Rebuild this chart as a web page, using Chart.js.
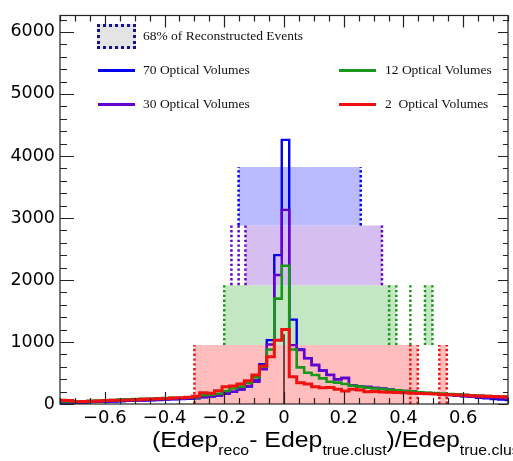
<!DOCTYPE html>
<html>
<head>
<meta charset="utf-8">
<script src="https://cdn.jsdelivr.net/npm/chart.js@4/dist/chart.umd.min.js"></script>
<style>
  html, body { margin: 0; padding: 0; background: #fff; overflow: hidden; }
  #wrap { position: relative; width: 513px; height: 461px; overflow: hidden; }
  #chart { position: absolute; left: 0; top: 0; }
  .leg { position: absolute; font-family: "Liberation Serif", serif; font-size: 13.5px; color: #111; white-space: pre; line-height: 14px; }
  .legline { position: absolute; height: 2.5px; width: 37px; }
  #legbox { position: absolute; left: 97px; top: 24px; width: 33px; height: 19px; background: #e4e4e4; border: 3px dotted #14148c; }
  #xtitle { position: absolute; left: 152px; top: 429px; font-family: "Liberation Sans", Arial, sans-serif; font-size: 22px; line-height: 22px; color: #000; white-space: pre; transform: scaleX(1.13); transform-origin: left top; }
  #xtitle sub { font-size: 14px; vertical-align: -8px; line-height: 0; }
</style>
</head>
<body>
<div id="wrap">
  <canvas id="chart" width="513" height="461"></canvas>
  <div id="legbox"></div>
  <div class="leg" style="left:143px; top:29px;">68% of Reconstructed Events</div>
  <div class="legline" style="left:98px; top:69px; background:#0000ee;"></div>
  <div class="leg" style="left:143px; top:63px;">70 Optical Volumes</div>
  <div class="legline" style="left:339px; top:69px; background:#1a961a;"></div>
  <div class="leg" style="left:385px; top:63px;">12 Optical Volumes</div>
  <div class="legline" style="left:98px; top:103px; background:#6600cc;"></div>
  <div class="leg" style="left:143px; top:97px;">30 Optical Volumes</div>
  <div class="legline" style="left:339px; top:103px; background:#f01010;"></div>
  <div class="leg" style="left:385px; top:97px;">2  Optical Volumes</div>
  <div id="xtitle">(Edep<sub>reco</sub>- Edep<sub>true.clust</sub>)/Edep<sub>true.clust</sub></div>
</div>
<script>
// ====== Data ======
// histogram binning: 61 bins of 0.025, first left edge at -0.7575
const binLow = -0.7575, binWidth = 0.025;

const h70 = [25, 25, 20, 25, 30, 35, 35, 40, 45, 50, 55, 55, 60, 65, 70, 75, 80, 85,
  90, 110, 120, 135, 165, 195, 235, 280, 380, 640, 1030, 2400,
  4260,
  1360, 880, 740, 630, 540, 470, 400, 420, 300, 285, 275, 260,
  245, 230, 220, 205, 195, 185, 175, 165, 155, 145, 135, 125, 115, 100, 90, 80, 70, 65];
const h30 = [30, 30, 25, 30, 35, 35, 40, 45, 50, 55, 55, 60, 65, 70, 75, 80, 85, 90,
  95, 115, 125, 140, 170, 200, 240, 290, 360, 560, 960, 2080,
  3130,
  950, 870, 736, 628, 537, 467, 397, 420, 300, 285, 275, 260,
  250, 235, 220, 210, 200, 190, 180, 170, 160, 150, 140, 130, 120, 110, 100, 95, 90, 85];
const h12 = [45, 40, 40, 45, 50, 55, 60, 65, 70, 75, 80, 85, 85, 90, 95, 100, 100, 105,
  110, 140, 150, 165, 210, 250, 280, 340, 430, 600, 880, 1700,
  2230,
  880, 590, 505, 467, 413, 360, 344, 322, 295, 280, 262, 250,
  240, 230, 220, 210, 200, 190, 180, 175, 170, 160, 155, 150, 140, 135, 130, 125, 120, 110];
const h2 = [60, 55, 35, 40, 45, 50, 55, 60, 62, 65, 70, 75, 80, 85, 90, 95, 100, 110,
  125, 180, 172, 214, 279, 290, 322, 376, 467, 612, 762, 1030,
  1200,
  440, 344, 322, 280, 263, 268, 236, 209, 236, 225, 198, 200,
  195, 190, 185, 180, 175, 170, 165, 160, 155, 150, 145, 140, 135, 130, 125, 120, 115, 110];

// 68% bands: [xLow, xHigh, yLow, yHigh]
const band70 = [[-0.152, 0.257, 2880, 3820]];
const band30 = [[-0.129, 0.328, 1915, 2880]];
const band12 = [[-0.2, 0.376, 950, 1915], [0.472, 0.497, 950, 1915]];
const band2 = [[-0.3, 0.448, 0, 950], [0.52, 0.545, 0, 950]];

// dotted edge lines
const edges70 = [-0.152, 0.257];
const edges30 = [-0.176, -0.152, -0.129, 0.328];
const edges12 = [-0.2, 0.352, 0.376, 0.423, 0.472, 0.497];
const edges2 = [-0.3, 0.423, 0.448, 0.52, 0.545];

const zeroLineTop = 1125;

const xTickValues = [-0.6, -0.4, -0.2, 0, 0.2, 0.4, 0.6];
const xTickLabels = ['\u22120.6', '\u22120.4', '\u22120.2', '0', '0.2', '0.4', '0.6'];
const yTickValues = [0, 1000, 2000, 3000, 4000, 5000, 6000];
const yTickLabels = ['0', '1000', '2000', '3000', '4000', '5000', '6000'];

// ====== Styles ======
const colors = { v70: '#0000ee', v30: '#6600cc', v12: '#1a961a', v2: '#f01010' };
const fills = { v70: '#babaff', v30: '#d6bff0', v12: '#c3e6c3', v2: '#ffbdbd' };

// ====== Helpers ======
function stepPoints(vals) {
  const pts = vals.map((v, i) => ({ x: binLow + i * binWidth, y: v }));
  pts.push({ x: binLow + vals.length * binWidth, y: vals[vals.length - 1] });
  return pts;
}
function histSet(vals, color, width, order) {
  return { data: stepPoints(vals), stepped: true, borderColor: color, borderWidth: width,
    fill: false, pointRadius: 0, order: order, borderJoinStyle: 'miter' };
}
function bandSets(bands, color) {
  return bands.map(b => ({ data: [{ x: b[0], y: b[3] }, { x: b[1], y: b[3] }],
    borderWidth: 0, borderColor: 'rgba(0,0,0,0)', backgroundColor: color,
    fill: { value: b[2] }, pointRadius: 0, order: 100 }));
}
function edgeSets(xs, y0, y1, color) {
  return xs.map(x => ({ data: [{ x: x, y: y0 }, { x: x, y: y1 }], borderColor: color,
    borderWidth: 2.5, borderDash: [2.4, 2.4], fill: false, pointRadius: 0, order: 90 }));
}

const datasets = [
  ...bandSets(band70, fills.v70), ...bandSets(band30, fills.v30),
  ...bandSets(band12, fills.v12), ...bandSets(band2, fills.v2),
  ...edgeSets(edges70, 2880, 3820, colors.v70), ...edgeSets(edges30, 1915, 2880, colors.v30),
  ...edgeSets(edges12, 950, 1915, colors.v12), ...edgeSets(edges2, 0, 950, colors.v2),
  { data: [{ x: 0, y: 0 }, { x: 0, y: zeroLineTop }], borderColor: '#3a2222', borderWidth: 1.5, pointRadius: 0, fill: false, order: 80 },
  histSet(h70, colors.v70, 2.4, 40),
  histSet(h30, colors.v30, 2.4, 30),
  histSet(h12, colors.v12, 2.6, 20),
  histSet(h2, colors.v2, 3, 10)
];

// ====== Frame + inward ticks (ROOT style) ======
const framePlugin = {
  id: 'frame',
  afterDatasetsDraw(chart) {
    const { ctx, chartArea: a, scales } = chart;
    const xs = scales.x, ys = scales.y;
    ctx.save();
    ctx.strokeStyle = '#222';
    ctx.lineWidth = 1.2;
    ctx.strokeRect(a.left, a.top, a.right - a.left, a.bottom - a.top);
    ctx.beginPath();
    for (let v = -0.75; v <= 0.7501; v += 0.05) {
      const px = Math.round(xs.getPixelForValue(v)) + 0.5;
      const major = xTickValues.some(t => Math.abs(t - v) < 1e-6);
      const len = major ? 12 : 6;
      ctx.moveTo(px, a.bottom); ctx.lineTo(px, a.bottom - len);
      ctx.moveTo(px, a.top); ctx.lineTo(px, a.top + len);
    }
    for (let v = 0; v <= 6265; v += 200) {
      const py = Math.round(ys.getPixelForValue(v)) + 0.5;
      const major = v % 1000 === 0;
      ctx.moveTo(a.left, py); ctx.lineTo(a.left + (major ? 14 : 7), py);
      ctx.moveTo(a.right, py); ctx.lineTo(a.right - (major ? 10 : 5), py);
    }
    ctx.stroke();
    ctx.restore();
  }
};

// ====== Chart ======
const ctx = document.getElementById('chart').getContext('2d');
const chart = new Chart(ctx, {
  type: 'line',
  data: { datasets: datasets },
  options: {
    responsive: false,
    animation: false,
    devicePixelRatio: 1,
    layout: { padding: { top: 15, right: 5, left: 0, bottom: 0 } },
    plugins: { legend: { display: false }, tooltip: { enabled: false } },
    scales: {
      x: {
        type: 'linear', min: -0.75, max: 0.75,
        afterBuildTicks: s => { s.ticks = xTickValues.map(v => ({ value: v })); },
        afterFit: s => { s.height = 57; },
        ticks: { callback: (v, i) => xTickLabels[i], font: { family: 'DejaVu Sans', size: 18 },
          color: '#000', padding: 4, maxRotation: 0, autoSkip: false },
        grid: { display: false, drawTicks: false },
        border: { display: false }
      },
      y: {
        type: 'linear', min: 0, max: 6265,
        afterBuildTicks: s => { s.ticks = yTickValues.map(v => ({ value: v })); },
        afterFit: s => { s.width = 60; },
        ticks: { callback: (v, i) => yTickLabels[i], font: { family: 'DejaVu Sans', size: 17.5 },
          color: '#000', padding: 5, autoSkip: false },
        grid: { display: false, drawTicks: false },
        border: { display: false }
      }
    }
  },
  plugins: [framePlugin]
});
</script>
</body>
</html>
